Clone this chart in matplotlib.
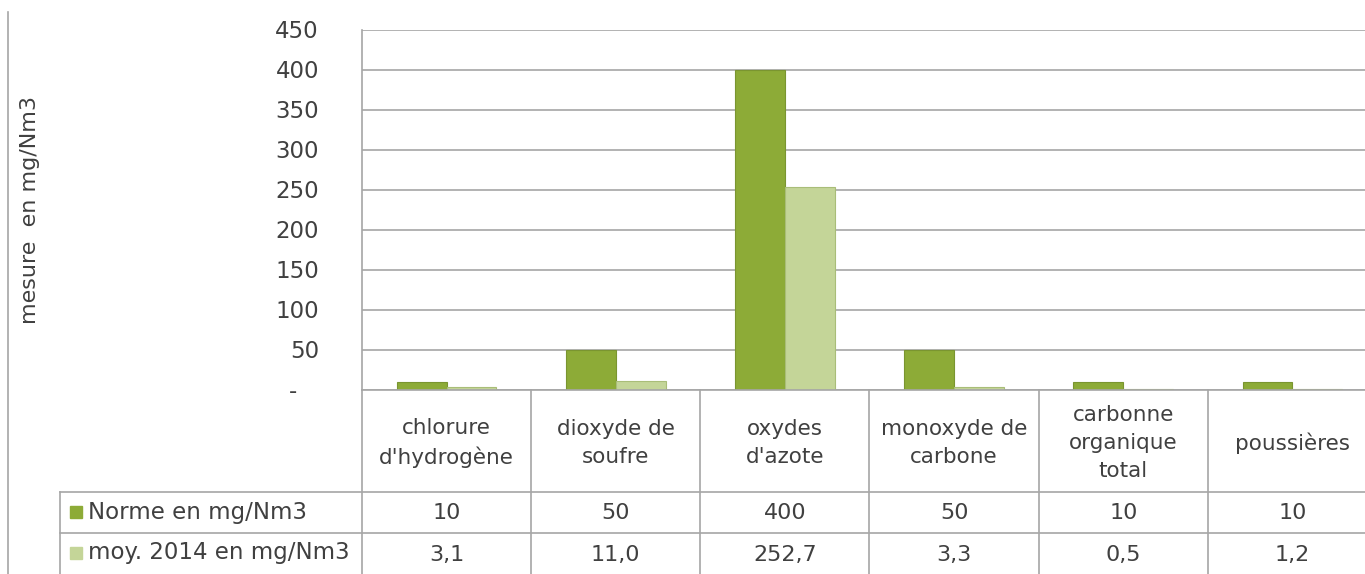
import numpy as np
import matplotlib
matplotlib.use("Agg")
import matplotlib.pyplot as plt
from matplotlib.lines import Line2D
from matplotlib.patches import Rectangle

# Données
categories = [
    "chlorure\nd'hydrogène",
    "dioxyde de\nsoufre",
    "oxydes\nd'azote",
    "monoxyde de\ncarbone",
    "carbonne\norganique\ntotal",
    "poussières",
]
norme = [10, 50, 400, 50, 10, 10]
moyenne = [3.1, 11.0, 252.7, 3.3, 0.5, 1.2]
series_noms = ["Norme en mg/Nm3", "moy. 2014 en mg/Nm3"]
yticks = [0, 50, 100, 150, 200, 250, 300, 350, 400, 450]

plt.rcParams["font.family"] = ["DejaVu Sans"]
gris_texte = "#404040"
gris_ligne = "#a6a6a6"
c_norme = "#8dab37"
c_moy = "#c4d598"
fs = 16

W, H = 1365, 574
fig = plt.figure(figsize=(W / 100, H / 100), dpi=100)

def fx(px):
    return px / W

def fy(py):
    return 1 - py / H

x0, x1 = 362, 1377  # bord droit coupé
y_top, y_zero = 29.5, 389.5
ax = fig.add_axes([fx(x0), fy(y_zero), fx(x1 - x0), (y_zero - y_top) / H])

x = np.arange(len(categories))
w = 0.295
ax.bar(x - w / 2, norme, w, color=c_norme, edgecolor="#7a9530", linewidth=0.8, zorder=3)
ax.bar(x + w / 2, moyenne, w, color=c_moy, edgecolor="#a9bd78", linewidth=0.8, zorder=3)

ax.set_xlim(-0.5, len(categories) - 0.5)
ax.set_ylim(0, 450)
ax.set_yticks(yticks)
ax.set_yticklabels(["-   " if v == 0 else str(v) for v in yticks])
ax.tick_params(axis="y", length=0, pad=31, labelsize=16.5, labelcolor=gris_texte)
ax.set_xticks([])
ax.yaxis.grid(True, color=gris_ligne, linewidth=1.2, zorder=0)
for s in ["top", "right", "bottom"]:
    ax.spines[s].set_visible(False)
ax.spines["left"].set_color(gris_ligne)
ax.spines["left"].set_linewidth(1.2)

# Titre de l'axe y
fig.text(fx(30), fy(210), "mesure  en mg/Nm3", rotation=90, ha="center", va="center",
         fontsize=16, color=gris_texte)

# Trait vertical à gauche
fig.add_artist(Line2D([fx(8), fx(8)], [fy(12), 0], color=gris_ligne, lw=1.2))

# Tableau de données sous le graphique
row1, row2 = 492, 533
col_w = (x1 - x0) / len(categories)
lignes = [
    ([x0, x0], [y_zero, H]),
    ([60, x1], [row1, row1]),
    ([60, x1], [row2, row2]),
    ([60, 60], [row1, H]),
    ([x0, x1], [y_zero, y_zero]),
]
for k in range(1, len(categories) + 1):
    xb = x0 + k * col_w
    lignes.append(([xb, xb], [y_zero, H]))
for xs, ys in lignes:
    fig.add_artist(Line2D([fx(v) for v in xs], [fy(v) for v in ys], color=gris_ligne, lw=1.2))

def fmt(v):
    return f"{v:.1f}".replace(".", ",")

for i, cat in enumerate(categories):
    cx = x0 + (i + 0.5) * col_w
    fig.text(fx(cx), fy(443), cat, ha="center", va="center", fontsize=15.5,
             color=gris_texte, linespacing=1.5)
    fig.text(fx(cx), fy(513), str(norme[i]), ha="center", va="center", fontsize=fs, color=gris_texte)
    fig.text(fx(cx), fy(555), fmt(moyenne[i]), ha="center", va="center", fontsize=fs, color=gris_texte)

for nom, col, yc in [(series_noms[0], c_norme, 512), (series_noms[1], c_moy, 553)]:
    fig.add_artist(Rectangle((fx(70), fy(yc + 6)), fx(12), 12 / H, color=col))
    fig.text(fx(88), fy(yc), nom, ha="left", va="center", fontsize=16.5, color=gris_texte)

fig.savefig("out.png", dpi=100)
